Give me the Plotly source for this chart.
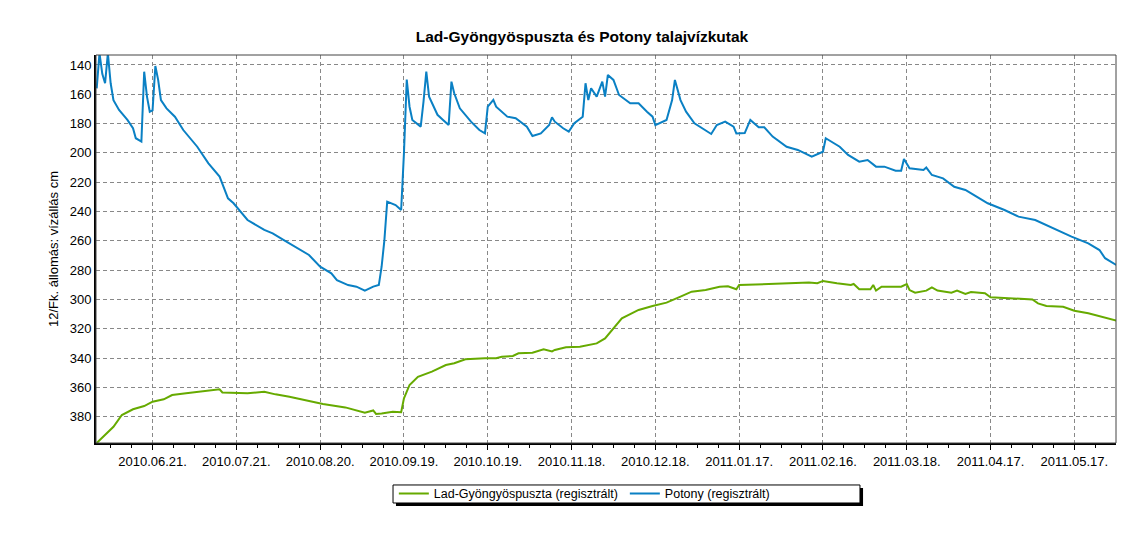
import plotly.graph_objects as go

chart_title = "Lad-Gyöngyöspuszta és Potony talajvízkutak"
y_title = "12/Fk. állomás: vízállás cm"
lad_name = "Lad-Gyöngyöspuszta (regisztrált)"
potony_name = "Potony (regisztrált)"

potony_dates = [
    "2010-06-01", "2010-06-02", "2010-06-03", "2010-06-04", "2010-06-05", "2010-06-06",
    "2010-06-07", "2010-06-09", "2010-06-12", "2010-06-14", "2010-06-15", "2010-06-17",
    "2010-06-18", "2010-06-19", "2010-06-20", "2010-06-21", "2010-06-22", "2010-06-23",
    "2010-06-24", "2010-06-26", "2010-06-29", "2010-07-02", "2010-07-07", "2010-07-11",
    "2010-07-15", "2010-07-18", "2010-07-20", "2010-07-25", "2010-07-31", "2010-08-03",
    "2010-08-07", "2010-08-12", "2010-08-16", "2010-08-20", "2010-08-24", "2010-08-26",
    "2010-08-30", "2010-09-02", "2010-09-05", "2010-09-08", "2010-09-10", "2010-09-11",
    "2010-09-12", "2010-09-13", "2010-09-14", "2010-09-16", "2010-09-18", "2010-09-19",
    "2010-09-20", "2010-09-21", "2010-09-22", "2010-09-25", "2010-09-26", "2010-09-27",
    "2010-09-28", "2010-09-30", "2010-10-01", "2010-10-03", "2010-10-05", "2010-10-06",
    "2010-10-07", "2010-10-09", "2010-10-13", "2010-10-16", "2010-10-18", "2010-10-19",
    "2010-10-21", "2010-10-22", "2010-10-26", "2010-10-29", "2010-11-02", "2010-11-04",
    "2010-11-07", "2010-11-10", "2010-11-11", "2010-11-12", "2010-11-15", "2010-11-17",
    "2010-11-19", "2010-11-22", "2010-11-23", "2010-11-24", "2010-11-25", "2010-11-27",
    "2010-11-29", "2010-11-30", "2010-12-01", "2010-12-03", "2010-12-05", "2010-12-09",
    "2010-12-12", "2010-12-15", "2010-12-17", "2010-12-18", "2010-12-22", "2010-12-24",
    "2010-12-25", "2010-12-27", "2010-12-29", "2011-01-01", "2011-01-07", "2011-01-09",
    "2011-01-12", "2011-01-15", "2011-01-16", "2011-01-19", "2011-01-21", "2011-01-24",
    "2011-01-26", "2011-01-29", "2011-02-03", "2011-02-07", "2011-02-12", "2011-02-16",
    "2011-02-17", "2011-02-22", "2011-02-25", "2011-03-01", "2011-03-04", "2011-03-07",
    "2011-03-10", "2011-03-14", "2011-03-16", "2011-03-17", "2011-03-19", "2011-03-24",
    "2011-03-25", "2011-03-27", "2011-03-31", "2011-04-04", "2011-04-08", "2011-04-12",
    "2011-04-16", "2011-04-22", "2011-04-27", "2011-05-03", "2011-05-07", "2011-05-11",
    "2011-05-16", "2011-05-22", "2011-05-26", "2011-05-28", "2011-06-01",
]
potony_values = [
    156, 132, 146, 152.5, 132, 152.5,
    164, 170.7, 177.5, 183.2, 190, 192.3,
    144.6, 161.6, 171.9, 171, 140.7, 150.2,
    164, 169.6, 175.3, 184.4, 195.8, 207.1,
    216.2, 231, 234.4, 245.8, 252.6, 254.9,
    259.5, 265.1, 269.7, 277.7, 282.2, 286.8,
    290.2, 291.3, 294, 291.3, 290.2, 277.7,
    259.5, 233.3, 234, 235.6, 239, 200,
    150, 168.5, 177.5, 182.1, 165, 144.6,
    161.6, 169.6, 174, 177.5, 181, 151.4,
    159.3, 169.6, 178.7, 184.4, 186.7, 168.5,
    163.9, 168.5, 175.3, 176.4, 182.1, 188.5,
    186.7, 181, 175.7, 178.7, 183.2, 185.5,
    179.8, 175.3, 152.5, 164, 155.9, 161.6,
    151.4, 161.6, 146.8, 150.2, 160.5, 166.2,
    166.2, 171.9, 175.3, 181, 177.5, 164,
    150.2, 164, 171.9, 179.8, 187.1, 181,
    178.7, 182.1, 186.7, 186.5, 177.5, 182.5,
    182.5, 188.9, 195.8, 198, 202.6, 199.2,
    190, 195.8, 201.4, 206, 204.9, 209.4,
    209.4, 212.2, 212.2, 204.2, 210.5, 211.7,
    210, 215.1, 217.4, 223.1, 225.3, 229.9,
    234.4, 239, 243.5, 245.8, 249.2, 252.6,
    257.2, 261.7, 266.3, 271.9, 276.5,
]

lad_dates = [
    "2010-06-01", "2010-06-04", "2010-06-07", "2010-06-10", "2010-06-14", "2010-06-18",
    "2010-06-21", "2010-06-25", "2010-06-28", "2010-07-03", "2010-07-08", "2010-07-13",
    "2010-07-15", "2010-07-16", "2010-07-19", "2010-07-25", "2010-07-31", "2010-08-04",
    "2010-08-09", "2010-08-14", "2010-08-21", "2010-08-29", "2010-09-02", "2010-09-05",
    "2010-09-08", "2010-09-09", "2010-09-11", "2010-09-15", "2010-09-18", "2010-09-19",
    "2010-09-21", "2010-09-24", "2010-09-29", "2010-10-04", "2010-10-07", "2010-10-11",
    "2010-10-18", "2010-10-22", "2010-10-24", "2010-10-28", "2010-10-30", "2010-11-04",
    "2010-11-08", "2010-11-11", "2010-11-12", "2010-11-16", "2010-11-21", "2010-11-27",
    "2010-11-30", "2010-12-03", "2010-12-06", "2010-12-09", "2010-12-12", "2010-12-17",
    "2010-12-22", "2010-12-27", "2010-12-31", "2011-01-05", "2011-01-10", "2011-01-13",
    "2011-01-16", "2011-01-17", "2011-01-26", "2011-02-06", "2011-02-11", "2011-02-14",
    "2011-02-16", "2011-02-21", "2011-02-26", "2011-02-27", "2011-03-01", "2011-03-05",
    "2011-03-06", "2011-03-07", "2011-03-09", "2011-03-16", "2011-03-18", "2011-03-19",
    "2011-03-21", "2011-03-25", "2011-03-27", "2011-03-29", "2011-04-03", "2011-04-05",
    "2011-04-08", "2011-04-10", "2011-04-15", "2011-04-17", "2011-04-24", "2011-05-02",
    "2011-05-04", "2011-05-07", "2011-05-13", "2011-05-17", "2011-05-22", "2011-05-28",
    "2011-06-01",
]
lad_values = [
    398, 392.6, 386.9, 378.9, 375, 372.8,
    369.8, 368.2, 365.3, 364.1, 363, 361.4,
    361.4, 363.5, 363.7, 364.1, 363, 364.8,
    366.4, 368.7, 371.4, 373.7, 375.5, 377.3,
    375.8, 378.2, 377.8, 376.6, 377, 367.5,
    358.4, 352.8, 349.3, 344.8, 343.6, 340.9,
    340.2, 340.2, 339.1, 338.6, 336.8, 336.4,
    334.1, 335.5, 334.5, 332.7, 332.3, 330,
    326.6, 319.7, 312.9, 310, 307.2, 304.5,
    302.2, 298.1, 294.7, 293.6, 291.3, 291,
    293.1, 290.2, 289.5, 289, 288.5, 289,
    287.4, 289, 290.2, 289.5, 293.1, 293.1,
    290.2, 294, 291.3, 291.3, 289.5, 293.6,
    295.4, 294, 291.8, 294, 295.4, 294,
    296.3, 295, 295.8, 298.6, 299.3, 300,
    302.7, 304.5, 305, 307.7, 309.5, 312.2,
    314.5,
]

y_ticks = [140, 160, 180, 200, 220, 240, 260, 280, 300, 320, 340, 360, 380]
x_tick_dates = [
    "2010-06-21", "2010-07-21", "2010-08-20", "2010-09-19", "2010-10-19", "2010-11-18",
    "2010-12-18", "2011-01-17", "2011-02-16", "2011-03-18", "2011-04-17", "2011-05-17",
]
x_tick_labels = [
    "2010.06.21.", "2010.07.21.", "2010.08.20.", "2010.09.19.", "2010.10.19.", "2010.11.18.",
    "2010.12.18.", "2011.01.17.", "2011.02.16.", "2011.03.18.", "2011.04.17.", "2011.05.17.",
]

FONT = "Arial, Liberation Sans, sans-serif"
GREEN = "#66aa00"
BLUE = "#0a80c4"

fig = go.Figure()
fig.add_trace(go.Scatter(x=lad_dates, y=lad_values, mode="lines", name=lad_name,
                         line=dict(color=GREEN, width=2)))
fig.add_trace(go.Scatter(x=potony_dates, y=potony_values, mode="lines", name=potony_name,
                         line=dict(color=BLUE, width=2)))

DAY = 86400000
# page body has an 8px default margin; figure is sized so the plot lands in place
W, H = 1132, 542
fig.update_layout(
    width=W, height=H, autosize=False,
    margin=dict(l=88, r=24, t=47, b=107),
    paper_bgcolor="white", plot_bgcolor="white",
    font=dict(family=FONT, size=13, color="black"),
    title=dict(text="<b>" + chart_title + "</b>", x=(582 - 8) / W, xanchor="center",
               y=1 - 29 / H, yanchor="middle", font=dict(size=15.5, family=FONT)),
    showlegend=True,
    legend=dict(orientation="h", x=0.292, xanchor="left", y=-0.131, yanchor="middle",
                bgcolor="rgba(0,0,0,0)", font=dict(size=12.5, family=FONT),
                traceorder="normal", entrywidth=186, entrywidthmode="pixels"),
    xaxis=dict(
        type="date", range=["2010-05-31 18:00", "2011-05-31 22:00"],
        tickmode="array", tickvals=x_tick_dates, ticktext=x_tick_labels,
        showgrid=True, gridcolor="#888888", griddash="4px,3px", gridwidth=1,
        ticks="outside", ticklen=5, tickcolor="black", tickwidth=1,
        minor=dict(tick0="2010-06-21", dtick=7.5 * DAY, ticklen=3, tickcolor="black",
                   ticks="outside", showgrid=False),
        showline=True, linecolor="black", linewidth=2, zeroline=False,
        tickfont=dict(size=13), ticklabelstandoff=0,
    ),
    yaxis=dict(
        range=[398, 133.2], tickmode="array", tickvals=y_ticks,
        showgrid=True, gridcolor="#888888", griddash="4px,3px", gridwidth=1,
        ticks="", showline=True, linecolor="black", linewidth=2, zeroline=False,
        title=dict(text=y_title, standoff=8, font=dict(size=13)),
        tickfont=dict(size=13),
    ),
    shapes=[
        dict(type="rect", xref="paper", yref="paper", x0=0, x1=1, y0=0, y1=1,
             line=dict(color="#444444", width=1), fillcolor="rgba(0,0,0,0)", layer="above"),
        dict(type="rect", xref="paper", yref="paper", x0=0.2941, x1=0.752, y0=-0.1624, y1=-0.116,
             line=dict(width=0), fillcolor="black", layer="above"),
        dict(type="rect", xref="paper", yref="paper", x0=0.2912, x1=0.749, y0=-0.1546, y1=-0.1082,
             line=dict(color="black", width=1), fillcolor="white", layer="above"),
    ],
)

fig.write_html("out.html")
